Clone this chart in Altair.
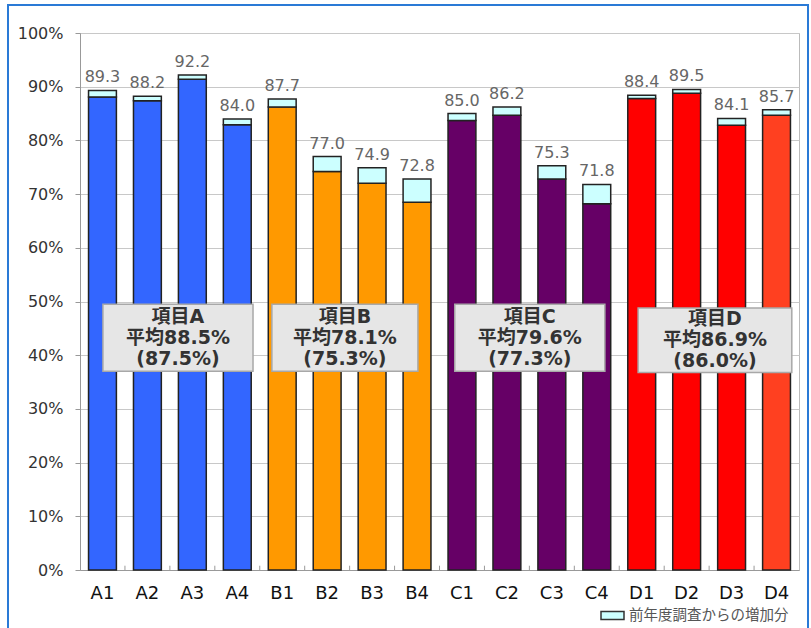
import altair as alt
import pandas as pd

# ---- data ----
categories = ["A1", "A2", "A3", "A4", "B1", "B2", "B3", "B4",
              "C1", "C2", "C3", "C4", "D1", "D2", "D3", "D4"]
totals = [89.3, 88.2, 92.2, 84.0, 87.7, 77.0, 74.9, 72.8,
          85.0, 86.2, 75.3, 71.8, 88.4, 89.5, 84.1, 85.7]
bases = [88.1, 87.4, 91.4, 82.9, 86.2, 74.2, 72.0, 68.5,
         83.7, 84.7, 72.8, 68.2, 87.8, 88.8, 82.8, 84.7]
bar_colors = ["#3366FF"] * 4 + ["#FF9900"] * 4 + ["#660066"] * 4 + \
             ["#FF0000", "#FF0000", "#FF0000", "#FF4020"]

group_names = ["項目A", "項目B", "項目C", "項目D"]
group_avgs = ["平均88.5%", "平均78.1%", "平均79.6%", "平均86.9%"]
group_prev = ["(87.5%)", "(75.3%)", "(77.3%)", "(86.0%)"]

legend_label = "前年度調査からの増加分"

# annotation box extents (in category units 0..16 and percent)
box_x0 = [0.51, 4.27, 8.34, 12.42]
box_x1 = [3.85, 7.52, 11.68, 15.84]
box_y0 = [37.0, 37.0, 37.0, 36.8]
box_y1 = [49.5, 49.5, 49.5, 48.8]

df = pd.DataFrame({
    "cat": categories,
    "total": totals,
    "base": bases,
    "color": bar_colors,
    "series": [legend_label] * len(categories),
})

boxes = pd.DataFrame({
    "x0": box_x0, "x1": box_x1, "y0": box_y0, "y1": box_y1,
    "label": [f"{n}\n{a}\n{p}" for n, a, p in zip(group_names, group_avgs, group_prev)],
})
boxes["xm"] = (boxes["x0"] + boxes["x1"]) / 2
boxes["ym"] = (boxes["y0"] + boxes["y1"]) / 2

ticks = pd.DataFrame({"b": list(range(1, len(categories)))})

FONT = "DejaVu Sans"
BOXFONT = "DejaVu Sans, Noto Sans CJK JP"

x_cat = alt.X("cat:N", sort=categories,
              scale=alt.Scale(paddingInner=0, paddingOuter=0),
              axis=alt.Axis(title=None, labelAngle=0, labelFontSize=18,
                            labelColor="#111111", labelFont=FONT, ticks=False,
                            domainColor="#999999", labelPadding=14))
y_scale = alt.Scale(domain=[0, 100], nice=False)
y_axis = alt.Axis(title=None, values=list(range(0, 101, 10)),
                  labelExpr="datum.value + '%'", labelFontSize=16,
                  labelColor="#333333", labelFont=FONT, gridColor="#C8C8C8",
                  domainColor="#999999", tickColor="#999999", tickSize=5,
                  labelPadding=12)

base = alt.Chart(df)

base_bars = base.mark_bar(width=alt.RelativeBandSize(0.62), stroke="#222222",
                          strokeWidth=1.5).encode(
    x=x_cat,
    y=alt.Y("base:Q", scale=y_scale, axis=y_axis),
    y2=alt.value(537),
    color=alt.Color("color:N", scale=None),
)

inc_bars = base.mark_bar(width=alt.RelativeBandSize(0.62), stroke="#222222",
                         strokeWidth=1.5).encode(
    x=x_cat,
    y=alt.Y("base:Q", scale=y_scale),
    y2="total:Q",
    fill=alt.Fill("series:N",
                  scale=alt.Scale(domain=[legend_label], range=["#CCFFFF"]),
                  legend=alt.Legend(title=None, orient="none", legendX=520,
                                    legendY=570, labelFontSize=14.5,
                                    labelColor="#555555",
                                    labelFont="Noto Sans CJK JP",
                                    symbolType="M-1,-0.35H1V0.35H-1Z",
                                    symbolSize=529, symbolStrokeColor="#333333",
                                    symbolStrokeWidth=1.5,
                                    symbolFillColor="#CCFFFF",
                                    labelOffset=4)),
)

value_labels = base.mark_text(baseline="bottom", dy=-5, fontSize=16,
                              color="#666666", font=FONT).encode(
    x=alt.X("cat:N", sort=categories),
    y=alt.Y("total:Q", scale=y_scale),
    text=alt.Text("total:Q", format=".1f"),
)

bars_layer = alt.layer(base_bars, inc_bars, value_labels)

xq = alt.Scale(domain=[0, 16], nice=False, zero=False)

tick_rules = alt.Chart(ticks).mark_rule(color="#999999", strokeWidth=1).encode(
    x=alt.X("b:Q", scale=xq, axis=None),
    y=alt.Y("y0:Q", scale=y_scale),
    y2="y1:Q",
).transform_calculate(y0="0", y1="0.8")

box_rects = alt.Chart(boxes).mark_rect(fill="#E6E6E6", stroke="#A8A8A8",
                                       strokeWidth=1.5).encode(
    x=alt.X("x0:Q", scale=xq, axis=None),
    x2="x1:Q",
    y=alt.Y("y0:Q", scale=y_scale),
    y2="y1:Q",
)

box_text = alt.Chart(boxes).mark_text(lineBreak="\n", lineHeight=21,
                                      fontSize=19, fontWeight="bold",
                                      font=BOXFONT,
                                      color="#333333", baseline="middle",
                                      dy=-21).encode(
    x=alt.X("xm:Q", scale=xq, axis=None),
    y=alt.Y("ym:Q", scale=y_scale),
    text="label:N",
)

frame = alt.Chart(pd.DataFrame({"k": [0]})).mark_rect(
    filled=False, stroke="#2A7AD6", strokeWidth=2).encode(
    x=alt.value(-72), x2=alt.value(728), y=alt.value(-28), y2=alt.value(620),
)

annot_layer = alt.layer(tick_rules, box_rects, box_text, frame)

chart = alt.layer(bars_layer, annot_layer).resolve_scale(
    x="independent"
).properties(
    width=719, height=537,
    padding={"left": 80, "top": 33, "right": 12, "bottom": 58},
    autosize=alt.AutoSizeParams(type="none"),
    background="white",
).configure_view(stroke="#BBBBBB")

chart.save("out.html", embed_options={"renderer": "svg", "actions": False})
